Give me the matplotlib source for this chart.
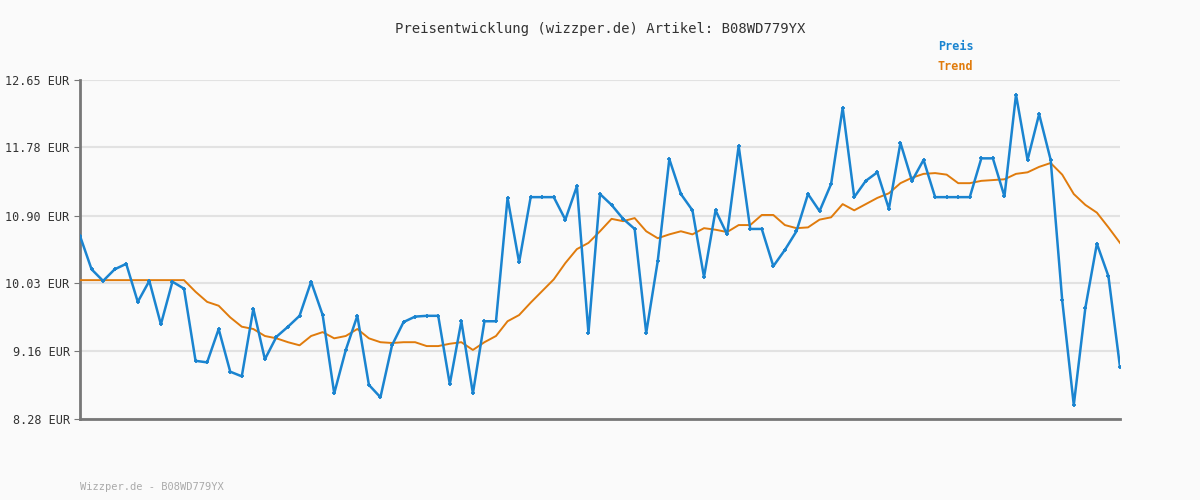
import numpy as np
import matplotlib.pyplot as plt

preis = [10.64, 10.21, 10.06, 10.21, 10.28, 9.79, 10.06, 9.50, 10.05, 9.96,
         9.03, 9.01, 9.44, 8.89, 8.83, 9.70, 9.05, 9.34, 9.47, 9.61,
         10.05, 9.62, 8.61, 9.17, 9.61, 8.72, 8.56, 9.23, 9.53, 9.60,
         9.61, 9.61, 8.73, 9.54, 8.61, 9.54, 9.54, 11.13, 10.30, 11.14,
         11.14, 11.14, 10.85, 11.28, 9.39, 11.18, 11.04, 10.86, 10.73, 9.39,
         10.32, 11.63, 11.18, 10.97, 10.11, 10.97, 10.66, 11.80, 10.73, 10.73,
         10.25, 10.46, 10.70, 11.18, 10.96, 11.31, 12.29, 11.14, 11.35, 11.46,
         10.99, 11.84, 11.35, 11.62, 11.14, 11.14, 11.14, 11.14, 11.64, 11.64,
         11.15, 12.46, 11.62, 12.21, 11.62, 9.81, 8.46, 9.71, 10.54, 10.12,
         8.95]
trend = [10.07] * 10 + [
         9.92, 9.79, 9.74, 9.59, 9.47, 9.44, 9.35, 9.32, 9.27, 9.23,
         9.35, 9.40, 9.32, 9.35, 9.44, 9.32, 9.27, 9.26, 9.27, 9.27,
         9.22, 9.22, 9.25, 9.27, 9.17, 9.27, 9.35, 9.54, 9.62, 9.78,
         9.93, 10.08, 10.29, 10.47, 10.55, 10.70, 10.86, 10.83, 10.87, 10.70,
         10.61, 10.66, 10.70, 10.66, 10.74, 10.72, 10.69, 10.78, 10.78, 10.91,
         10.91, 10.78, 10.74, 10.75, 10.85, 10.88, 11.05, 10.97, 11.05, 11.13,
         11.19, 11.32, 11.39, 11.44, 11.45, 11.43, 11.32, 11.32, 11.35, 11.36,
         11.37, 11.44, 11.46, 11.53, 11.58, 11.43, 11.18, 11.04, 10.94, 10.75,
         10.55]
yticks = [8.28, 9.16, 10.03, 10.90, 11.78, 12.65]

bg = "#fafafa"
blue = "#1a84d0"
orange = "#e07b0c"
mono = "DejaVu Sans Mono"

fig = plt.figure(figsize=(12, 5), dpi=100, facecolor=bg)
ax = fig.add_axes([80/1200, 81/500, 1040/1200, 339/500], facecolor=bg)
x = np.arange(len(preis))
ax.plot(x, trend, color=orange, lw=1.4, zorder=3)
ax.plot(x, preis, color=blue, lw=1.8, marker="+", ms=3, mew=1.3, zorder=4)

ax.set_xlim(0, len(preis) - 1)
ax.set_ylim(yticks[0], yticks[-1])
ax.set_yticks(yticks)
ax.set_yticklabels([f"{v:.2f} EUR" for v in yticks], family=mono, fontsize=8.5, color="#333333")
ax.set_xticks([])
ax.tick_params(axis="y", length=4, color="#777777")
ax.grid(axis="y", color="#e2e2e2", lw=1.5)
ax.set_axisbelow(True)
for s in ["top", "right"]:
    ax.spines[s].set_visible(False)
for s in ["left", "bottom"]:
    ax.spines[s].set_color("#777777")
    ax.spines[s].set_linewidth(2)

fig.text(0.5, 1 - 29/500, "Preisentwicklung (wizzper.de) Artikel: B08WD779YX",
         ha="center", va="center", family=mono, fontsize=10, color="#333333")
fig.text(938/1200, 1 - 47/500, "Preis", color=blue, family=mono, fontsize=8.5,
         fontweight="bold", va="center")
fig.text(938/1200, 1 - 67/500, "Trend", color=orange, family=mono, fontsize=8.5,
         fontweight="bold", va="center")
fig.text(80/1200, 1 - 487/500, "Wizzper.de - B08WD779YX", color="#aaaaaa",
         family=mono, fontsize=7.5, va="center")

fig.savefig("out.png", dpi=100, facecolor=bg)
